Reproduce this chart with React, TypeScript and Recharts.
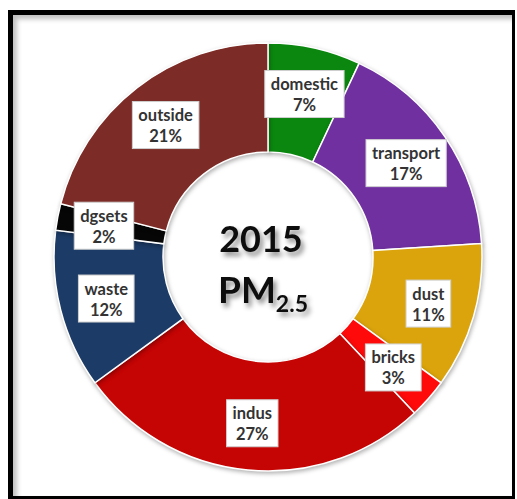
import React from "react"
import { PieChart, Pie, Cell } from "recharts"

const categories = ["domestic", "transport", "dust", "bricks", "indus", "waste", "dgsets", "outside"]
const shares = [7, 17, 11, 3, 27, 12, 2, 21]
const sliceColors = ["#0b870f", "#7030a0", "#dba40c", "#ff0a0a", "#c50404", "#1c3b66", "#060606", "#7d2b26"]

const data = categories.map((name, i) => ({ name, value: shares[i] }))

const RAD = Math.PI / 180
const labelFont = "bold 16.5px Lato"

let ctx: CanvasRenderingContext2D | null = null
function measure(text: string) {
  if (!ctx) ctx = document.createElement("canvas").getContext("2d")
  if (!ctx) return text.length * 8
  ctx.font = labelFont
  return ctx.measureText(text).width
}

function SliceLabel(props: any) {
  const { cx, cy, midAngle, name, value } = props
  const r = 167
  const x = cx + r * Math.cos(-midAngle * RAD)
  const y = cy + r * Math.sin(-midAngle * RAD)
  const pct = `${value}%`
  const w = Math.max(measure(name), measure(pct)) + 12
  const h = 47
  return (
    <g>
      <rect x={x - w / 2} y={y - h / 2} width={w} height={h} fill="#fff" stroke="#cfcfcf" strokeWidth={1} />
      <text x={x} y={y - 4} textAnchor="middle" fontFamily="Lato" fontWeight={700} fontSize={16.5} fill="#333">
        {name}
      </text>
      <text x={x} y={y + 17} textAnchor="middle" fontFamily="Lato" fontWeight={700} fontSize={16.5} fill="#333">
        {pct}
      </text>
    </g>
  )
}

export default function App() {
  return (
    <div style={{ position: "absolute", left: 0, top: 0, width: 517, height: 499, background: "#fff" }}>
      <style>{`.recharts-pie-sector { filter: drop-shadow(1px 2px 2px rgba(0,0,0,0.3)); }`}</style>
      <div
        style={{
          position: "absolute",
          left: 8,
          top: 10,
          width: 507,
          height: 489,
          boxSizing: "border-box",
          borderStyle: "solid",
          borderColor: "#000",
          borderWidth: "5px 3px 3px 5px",
          boxShadow: "inset 4px 4px 5px rgba(0,0,0,0.25)",
          background: "#fff",
        }}
      />
      <div style={{ position: "absolute", left: 0, top: 0 }}>
        <PieChart width={517} height={499} margin={{ top: 0, right: 0, bottom: 0, left: 0 }}>
          <Pie
            data={data}
            dataKey="value"
            nameKey="name"
            cx={268}
            cy={257}
            innerRadius={105}
            outerRadius={214}
            startAngle={90}
            endAngle={-270}
            stroke="#ffffff"
            strokeWidth={1.5}
            label={SliceLabel}
            labelLine={false}
            isAnimationActive={false}
          >
            {data.map((d, i) => (
              <Cell key={d.name} fill={sliceColors[i]} />
            ))}
          </Pie>
        </PieChart>
      </div>
      <svg width={517} height={499} style={{ position: "absolute", left: 0, top: 0, pointerEvents: "none" }}>
        <defs>
          <filter id="txtShadow" x="-20%" y="-20%" width="140%" height="160%">
            <feDropShadow dx="3" dy="4" stdDeviation="2.5" floodColor="#000" floodOpacity="0.45" />
          </filter>
        </defs>
        <g filter="url(#txtShadow)" fontFamily="Lato" fontWeight={700} fill="#111">
          <text x={261} y={252} textAnchor="middle" fontSize={36}>
            2015
          </text>
          <text x={263} y={303} textAnchor="middle" fontSize={37}>
            PM
            <tspan fontSize={23} dy={9}>
              2.5
            </tspan>
          </text>
        </g>
      </svg>
    </div>
  )
}
